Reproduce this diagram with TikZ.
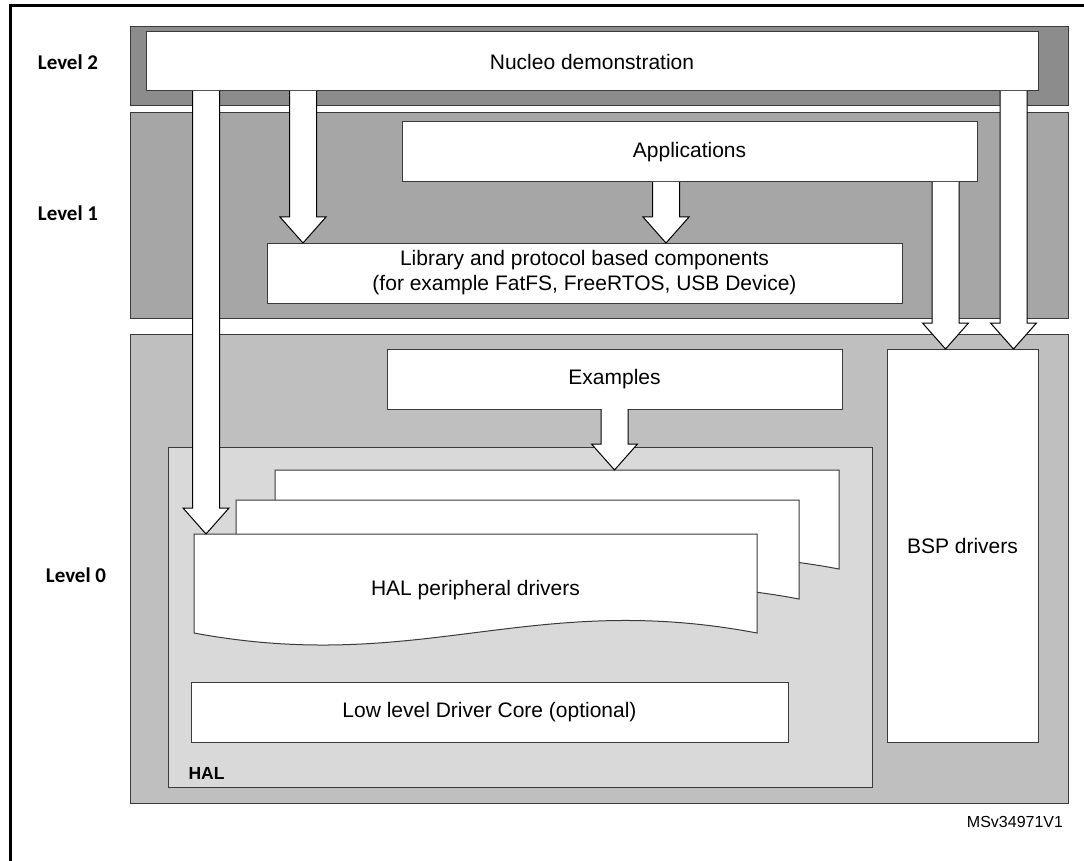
\documentclass[tikz,border=0pt]{standalone}
\usepackage{fontspec}
\setmainfont{Liberation Sans}
\newfontfamily\lvlfont{Carlito}
\usetikzlibrary{calc}

\definecolor{bandtwo}{HTML}{8C8C8C}
\definecolor{bandone}{HTML}{A6A6A6}
\definecolor{bandzero}{HTML}{BFBFBF}
\definecolor{halfill}{HTML}{D9D9D9}
\definecolor{edge}{HTML}{3A3A3A}

\tikzset{
  every node/.style={inner sep=0pt, outer sep=0pt},
  layer/.style={draw=edge, line width=1pt, anchor=north west},
  box/.style={draw=edge, fill=white, line width=1pt, anchor=north west,
    font=\fontsize{21}{25}\selectfont, align=center},
  docbox/.style={anchor=north west, font=\fontsize{21}{25}\selectfont},
  doc/.style={draw=edge, fill=white, line width=1pt},
  levellabel/.style={font=\lvlfont\bfseries\fontsize{21}{25}\selectfont},
  blockarrow/.style={draw=black, fill=white, line width=1pt, line join=miter,
    to path={let \p1=(\tikztostart), \p2=(\tikztotarget) in
      (\x1-13.5pt,\y1) -- (\x1-13.5pt,\y2+26pt) -- (\x1-23pt,\y2+26pt)
      -- (\x2,\y2) -- (\x1+23pt,\y2+26pt) -- (\x1+13.5pt,\y2+26pt)
      -- (\x1+13.5pt,\y1)}}
}

\begin{document}
\begin{tikzpicture}[x=1pt, y=-1pt]
\useasboundingbox (0,0) rectangle (1084,861);

% frame
\draw[line width=3pt, line cap=rect] (10,861) -- (10,5.5) -- (1084,5.5);

% level bands
\node[layer, fill=bandtwo, minimum width=938pt, minimum height=79pt] (band2) at (130,27) {};
\node[layer, fill=bandone, minimum width=938pt, minimum height=205pt] (band1) at (130,113) {};
\node[layer, fill=bandzero, minimum width=938pt, minimum height=469pt] (band0) at (130,334) {};

\node[levellabel] (lv2) at (68,62) {Level 2};
\node[levellabel] (lv1) at (68,213) {Level 1};
\node[levellabel] (lv0) at (76,575) {Level 0};

% blocks
\node[box, minimum width=892pt, minimum height=59pt] (nucleo) at (146,32) {Nucleo demonstration};
\node[box, minimum width=575pt, minimum height=60pt] (apps) at (402,122) {Applications};
\node[box, minimum width=635pt, minimum height=60pt] (lib) at (267,243)
  {Library and protocol based components\\(for example FatFS, FreeRTOS, USB Device)};
\node[box, minimum width=455pt, minimum height=60pt] (examples) at (387,349) {Examples};
\node[box, minimum width=151pt, minimum height=393pt] (bsp) at (887,349) {BSP drivers};

% HAL container
\node[layer, fill=halfill, minimum width=704pt, minimum height=340pt] (halbox) at (168,447) {};
\node[font=\bfseries\fontsize{17.5}{20}\selectfont] (hallabel) at (206.5,773) {HAL};

% stacked peripheral driver sheets
\node[docbox, minimum width=564pt, minimum height=113pt] (hal3) at (275,470) {};
\node[docbox, minimum width=563pt, minimum height=113pt] (hal2) at (236,500) {};
\node[docbox, minimum width=563pt, minimum height=113pt] (hal1) at (194,534) {};
\foreach \s in {hal3,hal2,hal1}{
  \draw[doc] (\s.north west) -- (\s.north east) -- ($(\s.south east)+(0,-14)$)
    .. controls ($(\s.south east)+(-227,-57)$) and ($(\s.south west)+(226,28)$)
    .. ($(\s.south west)+(0,-14)$) -- cycle;
}
\node[font=\fontsize{21}{25}\selectfont] (haltext) at (hal1.center) {HAL peripheral drivers};

\node[box, minimum width=597pt, minimum height=60pt] (lldc) at (191,682) {Low level Driver Core (optional)};

% arrow positions
\coordinate (ax1) at (206,0);
\coordinate (ax2) at (303,0);
\coordinate (ax3) at (666,0);
\coordinate (ax4) at (945.5,0);
\coordinate (ax5) at (1013.5,0);
\coordinate (ax6) at (614.5,0);

\draw[blockarrow] (nucleo.south -| ax1) to (hal1.north -| ax1);
\draw[blockarrow] (nucleo.south -| ax2) to (lib.north -| ax2);
\draw[blockarrow] (apps.south -| ax3) to (lib.north -| ax3);
\draw[blockarrow] (apps.south -| ax4) to (bsp.north -| ax4);
\draw[blockarrow] (nucleo.south -| ax5) to (bsp.north -| ax5);
\draw[blockarrow] (examples.south -| ax6) to (hal3.north -| ax6);

\node[font=\fontsize{16}{18}\selectfont] (ref) at (1015,822) {MSv34971V1};
\end{tikzpicture}
\end{document}
